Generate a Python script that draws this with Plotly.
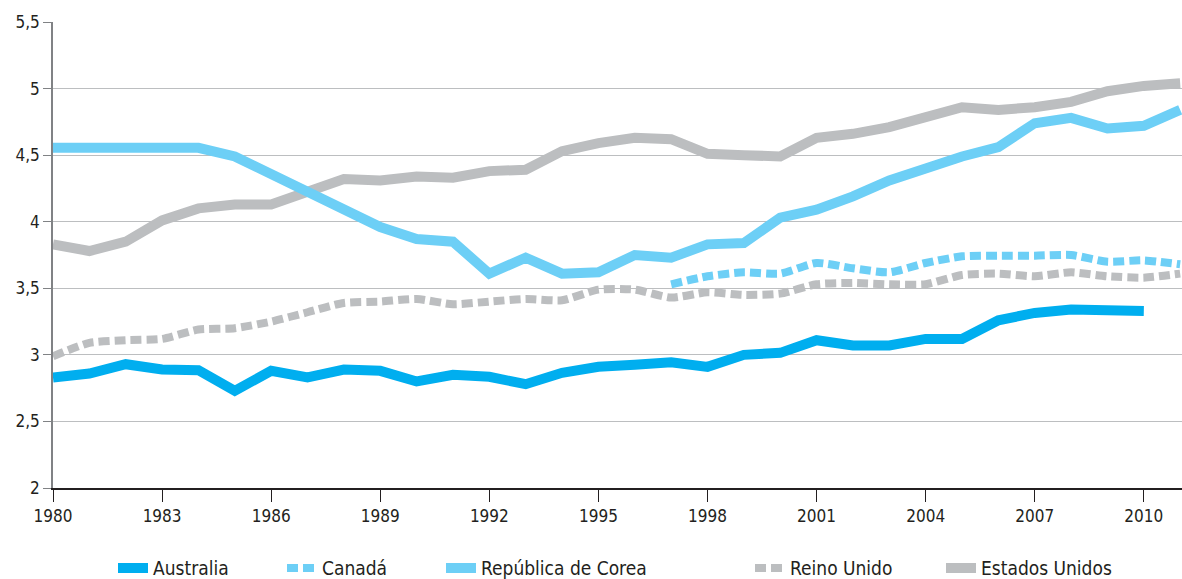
import plotly.graph_objs as go

years = list(range(1980, 2012))

australia = [2.83, 2.86, 2.93, 2.89, 2.885, 2.73, 2.88, 2.83, 2.89, 2.88,
             2.80, 2.85, 2.835, 2.78, 2.865, 2.91, 2.925, 2.945, 2.91, 3.00,
             3.015, 3.11, 3.07, 3.07, 3.12, 3.12, 3.26, 3.315, 3.34, 3.33,
             3.33, None]

canada_years = list(range(1997, 2012))
canada = [3.53, 3.59, 3.62, 3.61, 3.69, 3.65, 3.62, 3.69, 3.74, 3.745,
          3.745, 3.75, 3.70, 3.71, 3.68]

corea = [4.555, 4.555, 4.555, 4.555, 4.555, 4.49, 4.36, 4.23, 4.11, 3.96,
         3.87, 3.85, 3.61, 3.73, 3.61, 3.62, 3.75, 3.73, 3.83, 3.84,
         4.03, 4.09, 4.19, 4.31, 4.40, 4.49, 4.56, 4.74, 4.78, 4.70,
         4.72, 4.84]

reino_unido = [2.99, 3.09, 3.11, 3.12, 3.19, 3.20, 3.25, 3.32, 3.39, 3.40,
               3.42, 3.38, 3.40, 3.42, 3.41, 3.49, 3.49, 3.43, 3.47, 3.45,
               3.46, 3.53, 3.54, 3.53, 3.53, 3.60, 3.61, 3.59, 3.62, 3.59,
               3.58, 3.61]

estados_unidos = [3.83, 3.78, 3.85, 4.01, 4.10, 4.13, 4.13, 4.23, 4.32, 4.31,
                  4.34, 4.33, 4.38, 4.39, 4.53, 4.59, 4.63, 4.62, 4.51, 4.50,
                  4.49, 4.63, 4.66, 4.71, 4.78, 4.86, 4.84, 4.86, 4.90, 4.98,
                  5.02, 5.04]

year_ticks = list(range(1980, 2011, 3))
y_ticks = [2, 2.5, 3, 3.5, 4, 4.5, 5, 5.5]
y_labels = ['2', '2,5', '3', '3,5', '4', '4,5', '5', '5,5']

FONT = 'DejaVu Sans Condensed, Liberation Sans Narrow, sans-serif'
BLUE = '#00AEEF'
LIGHT = '#6DCFF6'
GREY = '#BCBEC0'

fig = go.Figure()

# draw order: greys below, blues on top
fig.add_trace(go.Scatter(x=years, y=estados_unidos, name='Estados Unidos', mode='lines',
                         line=dict(color=GREY, width=10), legend='legend5'))
fig.add_trace(go.Scatter(x=years, y=reino_unido, name='Reino Unido', mode='lines',
                         line=dict(color=GREY, width=8, dash='11px,5px', shape='spline', smoothing=0.6),
                         legend='legend4'))
fig.add_trace(go.Scatter(x=years, y=corea, name='República de Corea', mode='lines',
                         line=dict(color=LIGHT, width=10), legend='legend3'))
fig.add_trace(go.Scatter(x=canada_years, y=canada, name='Canadá', mode='lines',
                         line=dict(color=LIGHT, width=8, dash='11px,5px', shape='spline', smoothing=0.6),
                         legend='legend2'))
fig.add_trace(go.Scatter(x=years, y=australia, name='Australia', mode='lines',
                         line=dict(color=BLUE, width=10), legend='legend'))

W, H = 1182, 579
L, R, T, B = 53, 0, 22, 91


def leg(px):
    return dict(x=(px - L) / (W - L - R), y=-0.172, xanchor='left', yanchor='middle',
                orientation='h', font=dict(family=FONT, size=19, color='#231F20'),
                bgcolor='rgba(0,0,0,0)', borderwidth=0, itemwidth=30)


fig.update_layout(
    width=W, height=H,
    margin=dict(l=L, r=R, t=T, b=B, autoexpand=False),
    paper_bgcolor='white', plot_bgcolor='white',
    font=dict(family=FONT, size=17, color='#231F20'),
    showlegend=True,
    legend=leg(113),
    legend2=leg(282),
    legend3=leg(441),
    legend4=leg(750),
    legend5=leg(941),
)

fig.update_xaxes(
    range=[1980, 2011.05], tickvals=year_ticks, ticktext=[str(y) for y in year_ticks],
    showgrid=False, zeroline=False, showline=True, linecolor='#231F20', linewidth=1.5,
    ticks='outside', ticklen=12, tickcolor='#231F20', tickwidth=1.2, automargin=False,
    tickfont=dict(family=FONT, size=17, color='#231F20'),
)
fig.update_yaxes(
    range=[2, 5.5], tickvals=y_ticks, ticktext=y_labels,
    showgrid=True, gridcolor='#BCBEC0', gridwidth=1, zeroline=False,
    showline=True, linecolor='#808285', linewidth=1.5, automargin=False,
    ticks='outside', ticklen=8, tickcolor='#808285',
    tickfont=dict(family=FONT, size=17, color='#231F20'),
)

# the page's default body margin would shift the whole figure by 8px
fig.write_html("out.html", config={'displayModeBar': False},
               post_script="document.body.style.margin='0';document.body.style.overflow='hidden';")
